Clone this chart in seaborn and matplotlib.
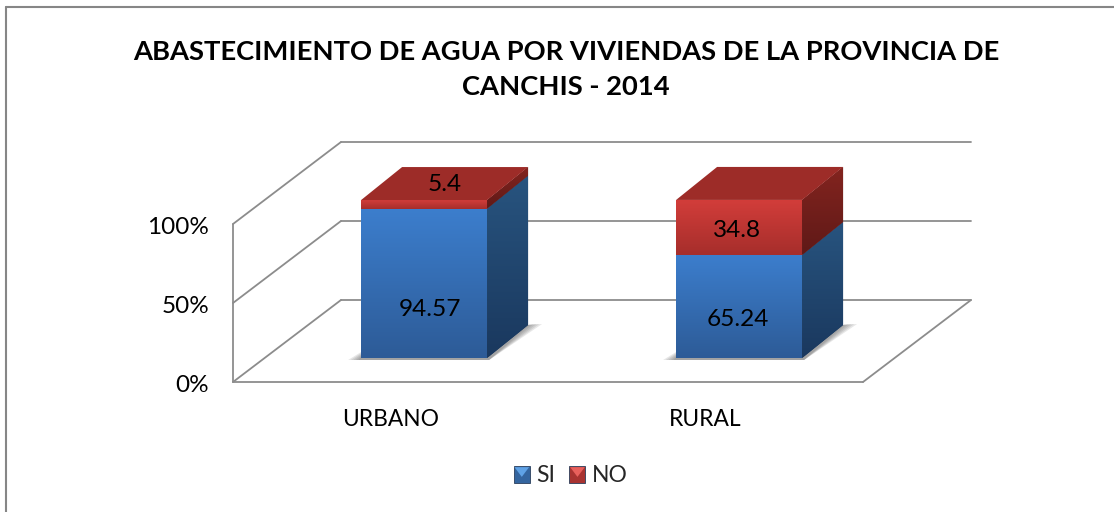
#!/usr/bin/env python3
"""Abastecimiento de agua por viviendas - stacked bars drawn with a 3D look"""

import matplotlib
matplotlib.use('Agg')
import matplotlib.pyplot as plt
import numpy as np
import pandas as pd
import seaborn as sns
from matplotlib.colors import LinearSegmentedColormap
from matplotlib.legend_handler import HandlerBase
from matplotlib.lines import Line2D
from matplotlib.patches import Patch, Polygon, Rectangle
from matplotlib.transforms import Affine2D

# Data
categories = ['URBANO', 'RURAL']
si_values = [94.57, 65.24]
no_values = [5.4, 34.8]
y_ticks = [0, 50, 100]
y_tick_labels = ['0%', '50%', '100%']
series_names = ['SI', 'NO']
title = 'ABASTECIMIENTO DE AGUA POR VIVIENDAS DE LA PROVINCIA DE\nCANCHIS - 2014'

# Layout, in pixels of the 1114x512 image
W, H = 1114, 512
DPI = 100
PLOT_L, PLOT_R, PLOT_B, PLOT_T = 233, 863, 382, 224
BACK = (108, 82)      # floor depth
BAR_SHIFT = (33.6, 24)  # where the bars stand on the floor
BAR_DEPTH = (41, 33)
GREY = '#8c8c8c'

BLUE = {'front': ('#3c7ecd', '#2d5b97'), 'side': ('#28547f', '#1a385e'), 'top': ('#2f66a8', '#2f66a8')}
RED = {'front': ('#d23d3a', '#a62e2b'), 'side': ('#83241f', '#5f1917'), 'top': ('#9d2c28', '#962a27')}


def dx(px):
    return px * 2 / (PLOT_R - PLOT_L)


def dy(px):
    return px * 100 / (PLOT_B - PLOT_T)


def fill_gradient(ax, patch, colors, transform, zorder):
    """Paint a vertical gradient clipped to a patch"""
    cmap = LinearSegmentedColormap.from_list('g', colors)
    if isinstance(patch, Rectangle):
        x0, y0, x1, y1 = patch.get_x(), patch.get_y(), patch.get_x() + patch.get_width(), patch.get_y() + patch.get_height()
    else:
        box = patch.get_path().get_extents()
        x0, y0, x1, y1 = box.x0, box.y0, box.x1, box.y1
    im = ax.imshow(np.linspace(0, 1, 128)[:, None], cmap=cmap, aspect='auto', origin='upper',
                   extent=(x0, x1, y0, y1), transform=transform, zorder=zorder)
    im.set_clip_box(ax.figure.bbox)
    if not isinstance(patch, Rectangle):
        im.set_clip_path(patch)
    else:
        im.set_clip_on(False)


def draw_cube(ax, patch, palette, zorder, trans, draw_top):
    """Turn one flat seaborn bar into a box: gradient front, side face, top face"""
    x, y, w, h = patch.get_x(), patch.get_y(), patch.get_width(), patch.get_height()
    ddx, ddy = dx(BAR_DEPTH[0]), dy(BAR_DEPTH[1])

    patch.set_transform(trans)
    patch.set_zorder(zorder)
    patch.set_clip_on(False)
    fill_gradient(ax, patch, palette['front'], trans, zorder + 0.1)

    side = Polygon([(x + w, y), (x + w + ddx, y + ddy), (x + w + ddx, y + h + ddy), (x + w, y + h)],
                   closed=True, transform=trans, facecolor=palette['side'][1], edgecolor='none',
                   zorder=zorder, clip_on=False)
    ax.add_patch(side)
    fill_gradient(ax, side, palette['side'], trans, zorder + 0.1)

    if draw_top:
        top = Polygon([(x, y + h), (x + w, y + h), (x + w + ddx, y + h + ddy), (x + ddx, y + h + ddy)],
                      closed=True, transform=trans, facecolor=palette['top'][0], edgecolor='none',
                      zorder=zorder + 0.2, clip_on=False)
        ax.add_patch(top)


def draw_shadow(ax, patch, trans):
    """Soft shadow peeking out at the foot of a bar"""
    x, w = patch.get_x(), patch.get_width()
    ddx, ddy = dx(BAR_DEPTH[0]), dy(BAR_DEPTH[1])
    for grow in (1.0, 0.8, 0.6, 0.4, 0.2):
        pts = [(x - dx(13 * grow), dy(-2)), (x, dy(6 * grow)), (x + w + ddx, ddy),
               (x + w + ddx + dx(14 * grow), ddy + dy(1)), (x + w + dx(2), dy(-2))]
        ax.add_patch(Polygon(pts, closed=True, transform=trans, facecolor='#555555', alpha=0.14,
                             edgecolor='none', zorder=1.5, clip_on=False))


class BevelHandler(HandlerBase):
    """Legend key: square with a light triangle in its upper half"""

    def __init__(self, base, light):
        super().__init__()
        self.base, self.light = base, light

    def create_artists(self, legend, orig_handle, xdescent, ydescent, width, height, fontsize, trans):
        square = Rectangle((-xdescent, -ydescent), width, height, facecolor=self.base,
                           edgecolor='#2a3f5c', linewidth=0.6, transform=trans)
        tri = Polygon([(-xdescent + 0.5, height - ydescent - 0.5), (width - xdescent - 0.5, height - ydescent - 0.5),
                       (width / 2 - xdescent, height * 0.35 - ydescent)], closed=True,
                      facecolor=self.light, edgecolor='none', transform=trans)
        return [square, tri]


def main():
    sns.set_theme(style='white')
    plt.rcParams['font.family'] = ['Lato', 'DejaVu Sans']

    fig = plt.figure(figsize=(W / DPI, H / DPI), dpi=DPI, facecolor='white')
    ax = fig.add_axes([PLOT_L / W, 1 - PLOT_B / H, (PLOT_R - PLOT_L) / W, (PLOT_B - PLOT_T) / H])

    df = pd.DataFrame({'zona': categories, 'SI': si_values, 'NO': no_values})
    df['total'] = df['SI'] + df['NO']

    # classic stacked trick: totals in red, then the SI part over them
    sns.barplot(data=df, x='zona', y='total', color=RED['front'][0], width=0.4,
                saturation=1, ax=ax, linewidth=0)
    red_bars = list(ax.patches)
    sns.barplot(data=df, x='zona', y='SI', color=BLUE['front'][0], width=0.4,
                saturation=1, ax=ax, linewidth=0)
    blue_bars = list(ax.patches)[len(red_bars):]

    ax.set_xlim(-0.5, 1.5)
    ax.set_ylim(0, 100)

    bar_trans = ax.transData + Affine2D().translate(*BAR_SHIFT)
    for i, (red, blue) in enumerate(zip(red_bars, blue_bars)):
        # red only needs to paint the part above the blue
        red.set_y(blue.get_height())
        red.set_height(df['NO'][i])
        draw_shadow(ax, blue, bar_trans)
        z = 3 + 2 * i
        draw_cube(ax, blue, BLUE, z, bar_trans, False)
        draw_cube(ax, red, RED, z + 0.5, bar_trans, True)

    # walls and floor
    bx, by = dx(BACK[0]), dy(BACK[1])
    line_kw = dict(color=GREY, lw=1.3, zorder=1, clip_on=False)
    for t in y_ticks:
        ax.plot([-0.5 + bx, 1.5 + bx], [t + by, t + by], **line_kw)
        ax.plot([-0.5, -0.5 + bx], [t, t + by], **line_kw)
    ax.plot([-0.5, -0.5], [y_ticks[0], y_ticks[-1]], **line_kw)
    ax.plot([-0.5, 1.5], [0, 0], **line_kw)
    ax.plot([1.5, 1.5 + bx], [0, by], **line_kw)

    ax.set_xlim(-0.5, 1.5)
    ax.set_ylim(0, 100)
    ax.set_yticks(y_ticks)
    ax.set_yticklabels(y_tick_labels)
    ax.set_xlabel('')
    ax.set_ylabel('')
    ax.tick_params(axis='y', length=0, pad=17.3, labelsize=17.5, labelcolor='black')
    ax.tick_params(axis='x', length=0, pad=19.5, labelsize=16.4, labelcolor='black')
    for label in ax.get_yticklabels():
        label.set_transform(label.get_transform() + Affine2D().translate(0, -1.5))
    ax.patch.set_alpha(0)
    for spine in ax.spines.values():
        spine.set_visible(False)

    # value labels, nudged in pixels from the front centre of each bar segment
    si_nudge = [(6, -26), (-1, -13)]
    no_nudge = [(21, 20), (-2, -3)]
    for i in range(len(categories)):
        for bar, val, nudge in ((blue_bars[i], si_values[i], si_nudge[i]),
                                (red_bars[i], no_values[i], no_nudge[i])):
            cx = bar.get_x() + bar.get_width() / 2
            cy = bar.get_y() + bar.get_height() / 2
            ax.annotate(f'{val}', (cx, cy), xycoords=bar_trans,
                        xytext=(nudge[0] * 72 / DPI, nudge[1] * 72 / DPI), textcoords='offset points',
                        ha='center', va='center', fontsize=17.6, color='black', zorder=20)

    fig.text(566 / W, 1 - 69.5 / H, title, ha='center', va='center', fontsize=19.7, fontweight='bold',
             color='black', linespacing=1.55)

    handles = [Patch(label=series_names[0]), Patch(label=series_names[1])]
    fig.legend(handles=handles, loc='center', bbox_to_anchor=(571 / W, 1 - 476 / H), ncol=2, frameon=False,
               fontsize=16.5, handlelength=0.7, handleheight=0.7, handletextpad=0.3, columnspacing=0.6,
               handler_map={handles[0]: BevelHandler('#34659f', '#5fa2e6'),
                            handles[1]: BevelHandler('#a83331', '#e8605c')})

    # chart frame, only top and left fall inside the picture
    fig.add_artist(Line2D([6 / W, 6 / W], [0, 1 - 7 / H], color='#868686', lw=1.5, transform=fig.transFigure))
    fig.add_artist(Line2D([6 / W, 1], [1 - 7 / H, 1 - 7 / H], color='#868686', lw=1.5, transform=fig.transFigure))

    fig.savefig('out.png', dpi=DPI, facecolor='white')
    plt.close(fig)


if __name__ == '__main__':
    main()
